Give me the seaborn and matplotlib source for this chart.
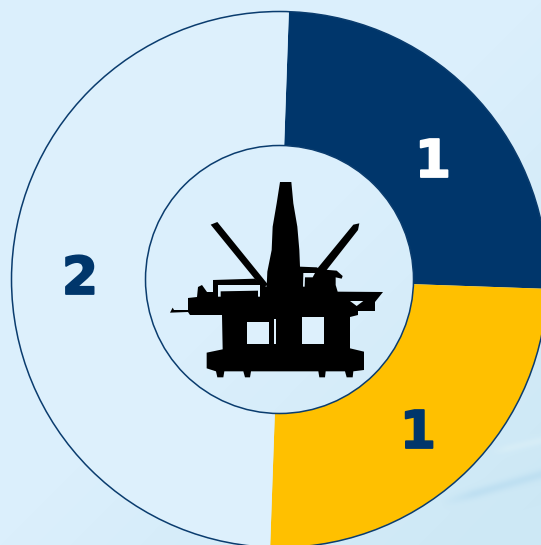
import numpy as np
import matplotlib
matplotlib.use("Agg")
import matplotlib.pyplot as plt
import matplotlib.patheffects as pe
import seaborn as sns
from matplotlib.patches import Polygon, Rectangle

# Count of units per category, clockwise from the top
categories = ["Navy", "Amber", "Open"]
counts = [1, 1, 2]
slice_colors = ["#00366B", "#FFC000", "#DDF0FC"]
label_colors = ["#FFFFFF", "#00366B", "#00366B"]
label_xy = [(433, 177), (418, 448), (80, 294)]

W, H = 541, 545
sns.set_theme(style="white")
plt.rcParams["font.family"] = ["DejaVu Sans"]

fig = plt.figure(figsize=(W / 100, H / 100), dpi=100)
ax = fig.add_axes([0, 0, 1, 1])
ax.set_xlim(0, W)
ax.set_ylim(0, H)
ax.set_aspect("equal")
ax.axis("off")


def flip(y):
    return H - y


# Pale slide backdrop, slightly deeper toward the lower right
yy, xx = np.mgrid[0:H, 0:W]
depth = np.clip((xx / W + yy / H - 1.0) / 0.9, 0, 1)
top = np.array([219, 239, 252]) / 255
low = np.array([205, 232, 245]) / 255
backdrop = top + (low - top) * depth[..., None]

# Soft diagonal sweeps in the corner of the backdrop
for (x0, y0, x1, y1, tone, spread) in [
    (440, 503, 541, 474, (188, 222, 241), 5.0),
    (490, 452, 541, 440, (216, 238, 247), 4.0),
]:
    dx, dy = x1 - x0, y1 - y0
    norm = np.hypot(dx, dy)
    dist = ((xx - x0) * dy - (yy - y0) * dx) / norm
    along = ((xx - x0) * dx + (yy - y0) * dy) / norm**2
    weight = np.exp(-(dist / spread) ** 2) * np.clip(along * 3, 0, 1) * 0.8
    backdrop += (np.array(tone) / 255 - backdrop) * weight[..., None]

ax.imshow(np.clip(backdrop, 0, 1), extent=(0, W, 0, H), origin="upper",
          aspect="auto", zorder=0)

# Ring of the three categories
center = (279.5, flip(279.5))
outer = 268
inner = 134
ax.pie(
    counts,
    colors=slice_colors,
    startangle=88,
    counterclock=False,
    center=center,
    radius=outer,
    frame=True,
    wedgeprops=dict(width=outer - inner, edgecolor="none", zorder=2),
)
for r in (outer, inner):
    ax.add_patch(plt.Circle(center, r, fill=False, ec="#0A3C6E", lw=1.1, zorder=3))
ax.set_xlim(0, W)
ax.set_ylim(0, H)
ax.axis("off")

for value, (x, y), color in zip(counts, label_xy, label_colors):
    ax.text(x, flip(y), str(value), color=color, fontsize=37.5, fontweight="bold",
            ha="center", va="baseline", zorder=5,
            path_effects=[pe.withStroke(linewidth=1.3, foreground=color)])


# Offshore platform silhouette, outlined on a local 690 x 660 grid
def icon(points):
    return [(160 + x / 3, flip(170 + y / 3)) for x, y in points]


hull = [
    (360, 36), (394, 36), (400, 100), (412, 170), (418, 240), (420, 290),
    (470, 292), (482, 298), (530, 302), (548, 318), (545, 326), (527, 322),
    (527, 345), (533, 365),
    (669, 366), (645, 396), (645, 423), (594, 423), (594, 435), (570, 441),
    (570, 535), (612, 545), (612, 600), (580, 604), (578, 622), (560, 622),
    (555, 604), (497, 604), (495, 622), (478, 622), (475, 604), (273, 604),
    (270, 622), (255, 622), (250, 604), (193, 604), (190, 622), (172, 622),
    (168, 604), (140, 595), (140, 548), (188, 538), (186, 435), (90, 435),
    (84, 426), (30, 428), (38, 413), (42, 420), (84, 420), (84, 384),
    (111, 381), (114, 351), (126, 345), (141, 366), (159, 366), (159, 330),
    (285, 326), (305, 345), (320, 350), (322, 305), (335, 240), (338, 170),
    (350, 100),
]
left_boom = [(152, 164), (172, 156), (325, 345), (305, 352)]
right_boom = [(470, 298), (580, 164), (598, 160), (594, 180), (496, 305)]
for shape in (hull, left_boom, right_boom):
    ax.add_patch(Polygon(icon(shape), closed=True, fc="black", ec="none", zorder=6))

# Openings between the pontoons and columns
openings = [(262, 456, 328, 522), (426, 440, 492, 522), (343, 448, 347, 522)]
for x0, y0, x1, y1 in openings:
    (xa, ya), (xb, yb) = icon([(x0, y1), (x1, y0)])
    ax.add_patch(Rectangle((xa, ya), xb - xa, yb - ya, fc="#DDF0FC", ec="none", zorder=7))

# Gaps in the deck structures
deck_gaps = [
    [(174, 345), (300, 345), (300, 380), (294, 380), (294, 362), (182, 364),
     (182, 380), (174, 380)],
    [(430, 309), (465, 309), (458, 322), (435, 322), (434, 350), (429, 350)],
    [(570, 393), (610, 393), (590, 408)],
]
for gap in deck_gaps:
    ax.add_patch(Polygon(icon(gap), closed=True, fc="#DDF0FC", ec="none", zorder=7))

fig.savefig("out.png", dpi=100)
